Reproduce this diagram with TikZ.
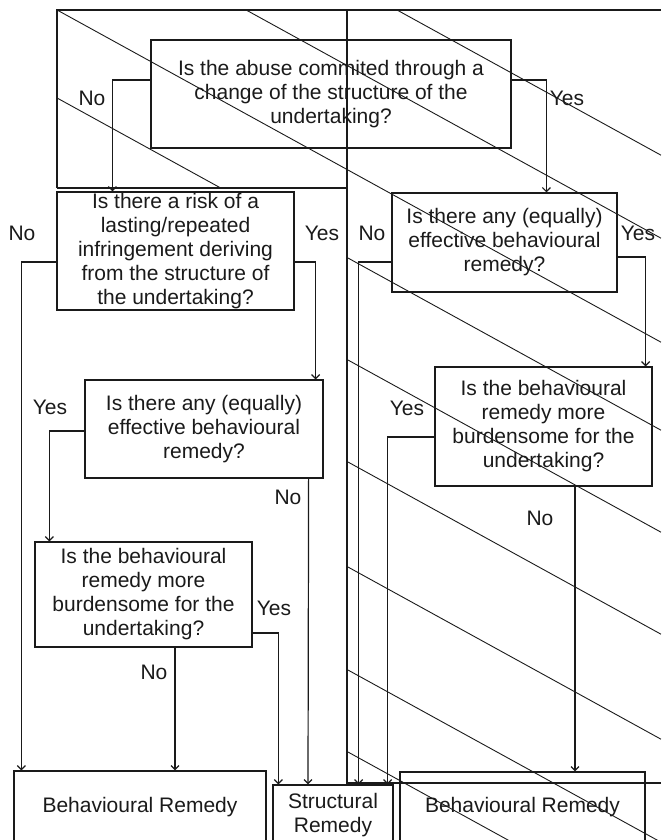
\documentclass[tikz,border=0pt]{standalone}
\usepackage{fontspec}
\setmainfont{Liberation Sans}
\usetikzlibrary{positioning,arrows.meta,calc}
\definecolor{ink}{HTML}{1A1A1A}
\tikzset{
  >={Straight Barb[length=4pt,width=8pt]},
  qbox/.style={draw=ink, line width=1.2pt, inner sep=0pt, align=center,
               font=\fontsize{21}{24}\selectfont, text=ink},
  lbl/.style={font=\fontsize{21}{24}\selectfont, text=ink, inner sep=0pt},
  l/.style={->, line width=1.2pt, draw=ink},
  frame/.style={line width=1.2pt, draw=ink},
  hatch/.style={line width=0.9pt, draw=ink},
}

\begin{document}
\begin{tikzpicture}[x=1pt,y=-1pt]
  \clip (0,0) rectangle (661,840);
  \node[qbox,minimum width=360,minimum height=108] (q1) at (331,94) {Is the abuse commited through a\\change of the structure of the\\undertaking?};
  \node[qbox,minimum width=237,minimum height=118] (q2) at (175.5,251) {Is there a risk of a\\lasting/repeated\\infringement deriving\\from the structure of\\the undertaking?};
  \node[qbox,minimum width=238,minimum height=98] (q3) at (204,429) {Is there any (equally)\\effective behavioural\\remedy?};
  \node[qbox,minimum width=217,minimum height=105] (q4) at (143.5,594.5) {Is the behavioural\\remedy more\\burdensome for the\\undertaking?};
  \node[qbox,minimum width=225,minimum height=99] (q5) at (504.5,242.5) {Is there any (equally)\\effective behavioural\\remedy?};
  \node[qbox,minimum width=217,minimum height=119] (q6) at (543.5,426.5) {Is the behavioural\\remedy more\\burdensome for the\\undertaking?};
  \node[qbox,minimum width=252,minimum height=72] (r1) at (140,807) {Behavioural Remedy};
  \node[qbox,minimum width=120,minimum height=60] (r2) at (333,815) {Structural\\Remedy};
  \node[qbox,minimum width=245,minimum height=70] (r3) at (522.5,807) {Behavioural Remedy};

  \draw[frame] (57,188) -- (57,10) -- (661,10);
  \draw[frame] (57,188) -- (347,188);
  \draw[frame] (347,10) -- (347,783) -- (661,783);
  \begin{scope}
    \clip (57,10) -- (661,10) -- (661,840) -- (347,840) -- (347,188) -- (57,188) -- cycle;
    \foreach \c in {-17,66,170,258,360,462,567,670,752}
      \draw[hatch] (0,{\c-191.4}) -- (661,{\c+172.2});
  \end{scope}

  \draw[l] ([yshift=14pt]q1.west) -| ([xshift=56pt]q2.north west);
  \draw[l] ([yshift=14pt]q1.east) -| ([xshift=155pt]q5.north west);
  \draw[l] ([yshift=-11pt]q2.west) -| ([xshift=8pt]r1.north west);
  \draw[l] ([yshift=-11pt]q2.east) -| ([xshift=-8pt]q3.north east);
  \draw[l] ([yshift=-2pt]q3.west) -| ([xshift=15pt]q4.north west);
  \draw[l] ([xshift=-15pt]q3.south east) -- ([xshift=-25pt]r2.north);
  \draw[l] ([yshift=-38.5pt]q4.east) -| ([xshift=6pt]r2.north west);
  \draw[l] ([xshift=31.5pt]q4.south) -- ([xshift=35pt]r1.north);
  \draw[l] ([yshift=-19.5pt]q5.west) -| ([xshift=-35pt]r2.north east);
  \draw[l] ([yshift=-14.5pt]q5.east) -| ([xshift=-7pt]q6.north east);
  \draw[l] ([yshift=-10.5pt]q6.west) -| ([xshift=-6pt]r2.north east);
  \draw[l] ([xshift=31.5pt]q6.south) -- ([xshift=52.5pt]r3.north);

  \node[lbl] (n1) at (92,98) {No};
  \node[lbl] (y1) at (567,98) {Yes};
  \node[lbl] (n2) at (22,233) {No};
  \node[lbl] (y2) at (322,233) {Yes};
  \node[lbl] (y3) at (50,407) {Yes};
  \node[lbl] (n3) at (288,497) {No};
  \node[lbl] (y4) at (274,608) {Yes};
  \node[lbl] (n4) at (154,672) {No};
  \node[lbl] (n5) at (372,233) {No};
  \node[lbl] (y5) at (638,233) {Yes};
  \node[lbl] (y6) at (407,408) {Yes};
  \node[lbl] (n6) at (540,518) {No};
\end{tikzpicture}
\end{document}
